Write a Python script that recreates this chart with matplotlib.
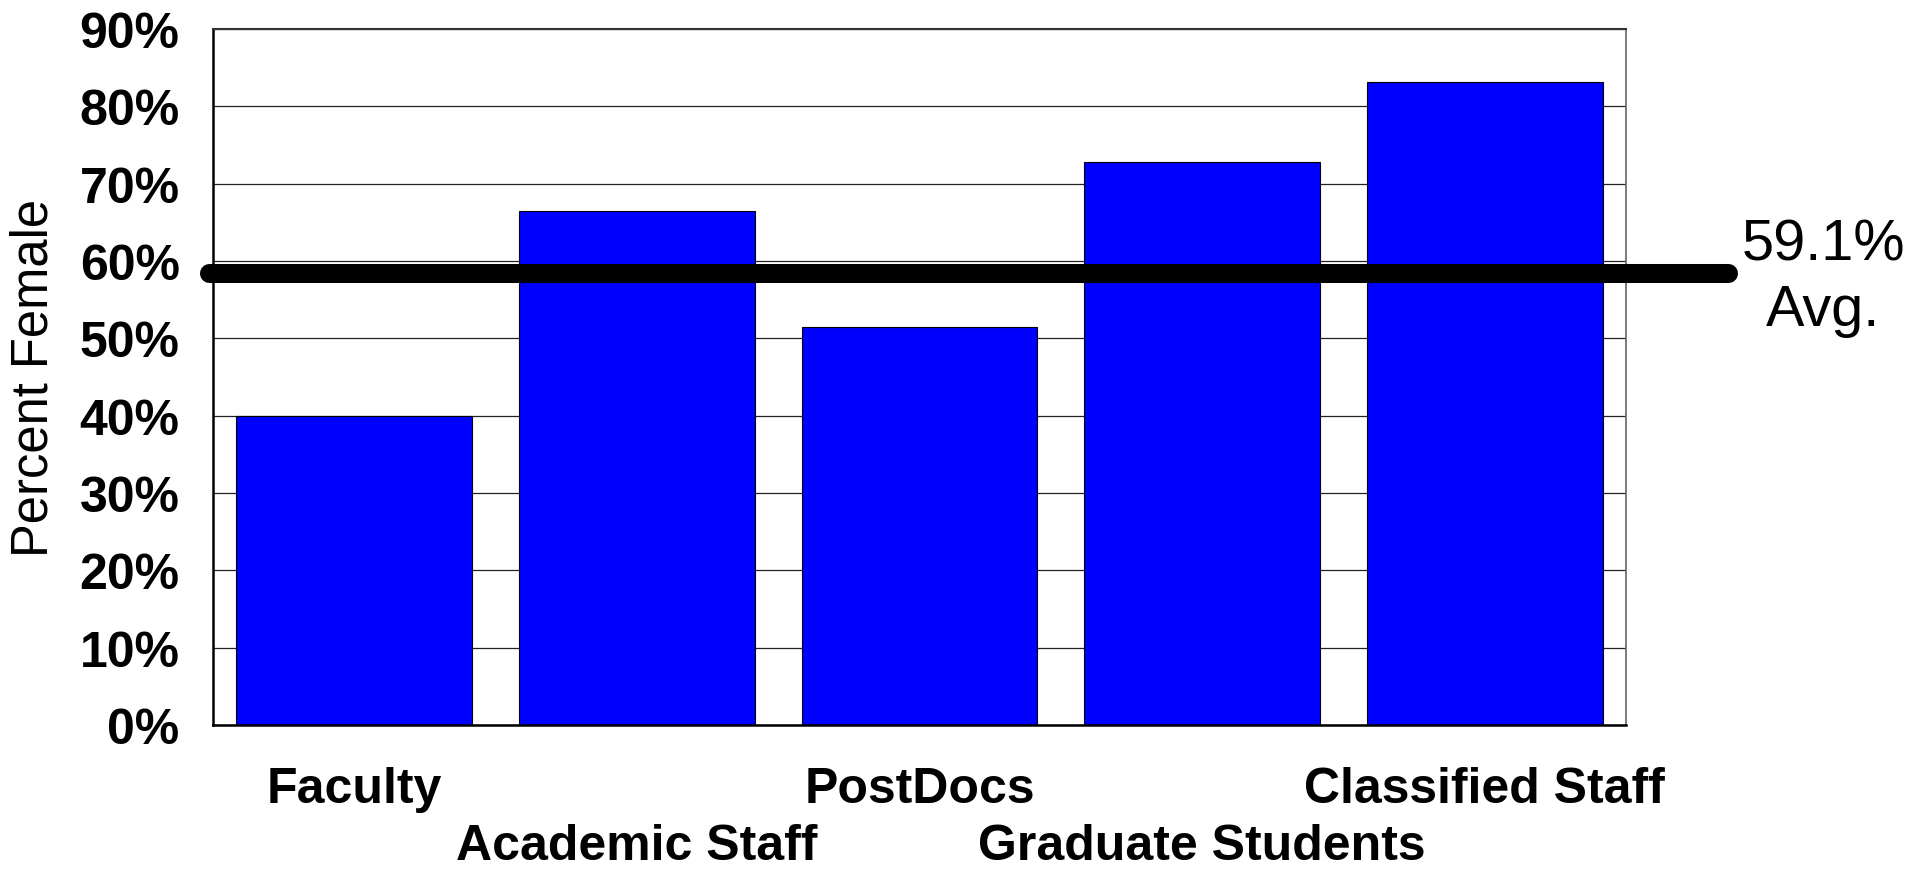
import matplotlib
matplotlib.use("Agg")
import matplotlib.pyplot as plt
from matplotlib.ticker import FuncFormatter

# Data
categories = ["Faculty", "Academic Staff", "PostDocs", "Graduate Students", "Classified Staff"]
pct_female = [40.0, 66.5, 51.5, 72.8, 83.1]
avg_value = 58.5          # where the average line is drawn
avg_label = "59.1%\nAvg."
yticks = [0, 10, 20, 30, 40, 50, 60, 70, 80, 90]

plt.rcParams['font.family'] = ['Liberation Sans', 'DejaVu Sans']

fig = plt.figure(figsize=(19.11, 8.7), dpi=100)
ax = fig.add_axes([213 / 1911, 1 - 726 / 870, 1413 / 1911, 696 / 870])

x = list(range(len(categories)))
ax.bar(x, pct_female, width=0.835, color='#0000ff', edgecolor='black',
       linewidth=0.8, zorder=2)

ax.set_xlim(-0.5, len(categories) - 0.5)
ax.set_ylim(0, 90)
ax.set_yticks(yticks)
ax.yaxis.set_major_formatter(FuncFormatter(lambda v, p: f"{v:.0f}%"))
ax.tick_params(axis='y', length=0, pad=24, labelsize=36)
for lbl in ax.get_yticklabels():
    lbl.set_fontweight('bold')
ax.set_xticks(x)
ax.set_xticklabels([])
ax.tick_params(axis='x', length=0)

# gridlines behind bars
ax.yaxis.grid(True, color='#222222', linewidth=0.9, zorder=0)
ax.set_axisbelow(True)

# staggered category labels
for i, name in enumerate(categories):
    y = -0.092 if i % 2 == 0 else -0.174
    ax.text(i, y, name, transform=ax.get_xaxis_transform(), ha='center',
            va='center', fontsize=36, fontweight='bold')

# spines
ax.spines['left'].set_linewidth(1.8)
ax.spines['left'].set_color('black')
ax.spines['bottom'].set_linewidth(1.8)
ax.spines['bottom'].set_color('black')
ax.spines['top'].set_linewidth(1.5)
ax.spines['top'].set_color('#333333')
ax.spines['right'].set_linewidth(1.2)
ax.spines['right'].set_color('#666666')

ax.set_ylabel("Percent Female", fontsize=36.5, va='center')
ax.yaxis.set_label_coords(-0.127, 0.5)

# average line, running past the plot area
ax.plot([-0.0025, 1.0725], [avg_value, avg_value], color='black', linewidth=13.7,
        solid_capstyle='round', transform=ax.get_yaxis_transform(),
        clip_on=False, zorder=5)
fig.text(1823 / 1911, 1 - 278 / 870, avg_label, ha='center', va='center',
         fontsize=41.5, linespacing=1.28)

fig.savefig("out.png", dpi=100)
